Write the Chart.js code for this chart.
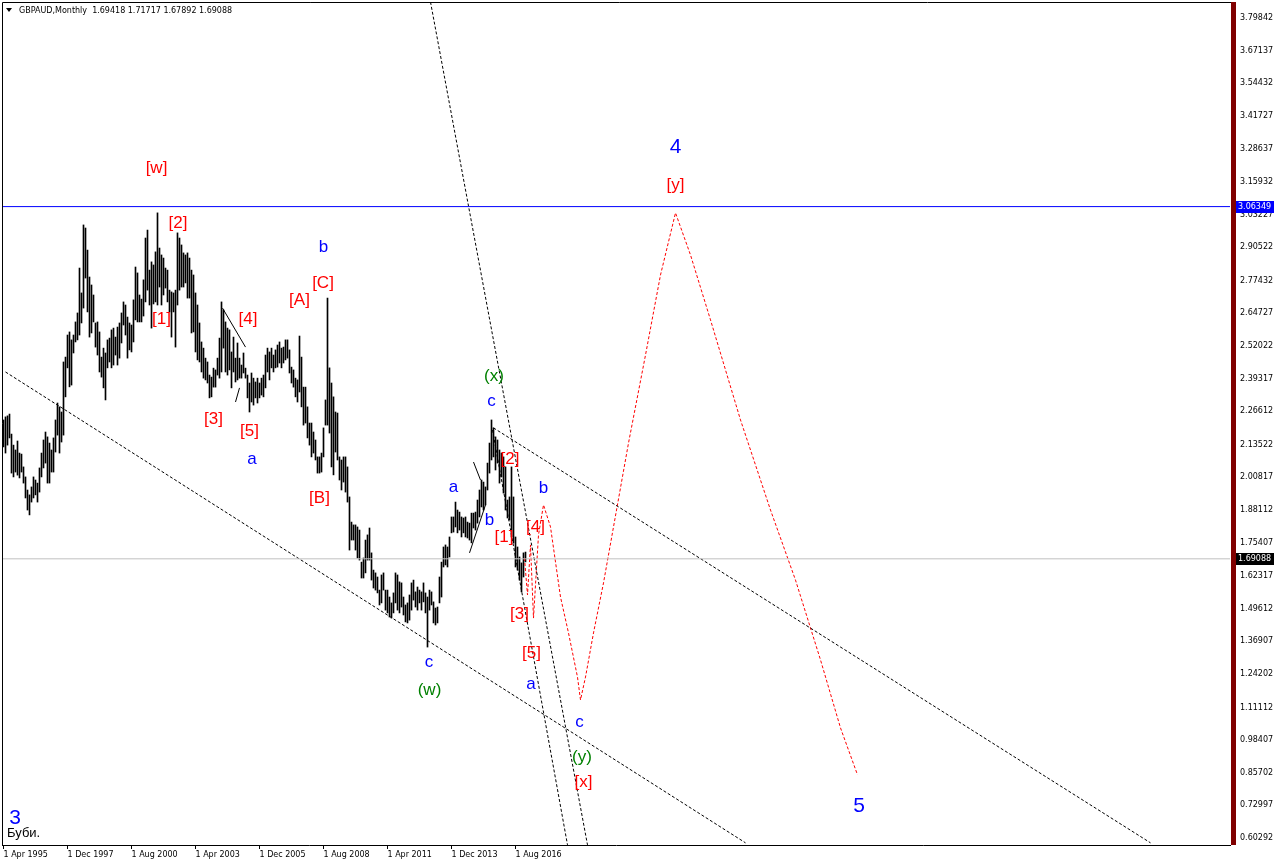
<!DOCTYPE html>
<html>
<head>
<meta charset="utf-8">
<script src="https://cdn.jsdelivr.net/npm/chart.js@4.4.1/dist/chart.umd.min.js"></script>
<style>
  body { margin: 0; background: #fff; }
  canvas { display: block; }
</style>
</head>
<body>
<canvas id="chart" width="1276" height="866"></canvas>
<script>
// monthly bars, index 0 = Apr 1995
const barHigh = [
  2.232, 2.244, 2.248, 2.255, 2.177, 2.134, 2.115, 2.150, 2.103, 2.099,
  2.049, 2.010, 1.959, 1.940, 1.971, 2.010, 1.998, 1.986, 2.045, 2.103,
  2.154, 2.185, 2.166, 2.142, 2.115, 2.162, 2.232, 2.298, 2.283, 2.263,
  2.458, 2.477, 2.563, 2.575, 2.544, 2.563, 2.614, 2.649, 2.824, 2.727,
  2.992, 2.980, 2.894, 2.789, 2.758, 2.719, 2.610, 2.614, 2.575, 2.477,
  2.512, 2.493, 2.544, 2.551, 2.583, 2.590, 2.555, 2.594, 2.610, 2.649,
  2.692, 2.680, 2.633, 2.610, 2.602, 2.700, 2.828, 2.805, 2.719, 2.703,
  2.778, 2.941, 2.972, 2.816, 2.848, 2.836, 2.887, 3.039, 2.902, 2.875,
  2.863, 2.824, 2.816, 2.738, 2.731, 2.727, 2.738, 2.961, 2.941, 2.914,
  2.883, 2.875, 2.883, 2.863, 2.816, 2.797, 2.727, 2.680, 2.610, 2.536,
  2.512, 2.473, 2.458, 2.407, 2.399, 2.434, 2.427, 2.473, 2.551, 2.692,
  2.661, 2.614, 2.590, 2.583, 2.497, 2.555, 2.473, 2.532, 2.473, 2.446,
  2.493, 2.434, 2.407, 2.376, 2.415, 2.395, 2.380, 2.395, 2.376, 2.395,
  2.407, 2.485, 2.512, 2.497, 2.512, 2.485, 2.505, 2.524, 2.536, 2.512,
  2.516, 2.544, 2.544, 2.505, 2.438, 2.427, 2.395, 2.388, 2.559, 2.477,
  2.360, 2.360, 2.283, 2.220, 2.220, 2.185, 2.154, 2.088, 2.088, 2.103,
  2.201, 2.310, 2.707, 2.435, 2.376, 2.322, 2.263, 2.259, 2.088, 2.076,
  2.088, 2.088, 2.049, 1.932, 1.834, 1.823, 1.823, 1.815, 1.803, 1.678,
  1.694, 1.764, 1.784, 1.811, 1.714, 1.647, 1.636, 1.620, 1.569, 1.628,
  1.636, 1.569, 1.569, 1.542, 1.519, 1.558, 1.636, 1.628, 1.601, 1.597,
  1.542, 1.511, 1.519, 1.550, 1.597, 1.608, 1.562, 1.581, 1.569, 1.562,
  1.597, 1.558, 1.542, 1.569, 1.562, 1.523, 1.499, 1.503, 1.620, 1.678,
  1.737, 1.745, 1.737, 1.776, 1.854, 1.854, 1.912, 1.881, 1.873, 1.854,
  1.850, 1.854, 1.834, 1.830, 1.869, 1.869, 1.873, 1.920, 1.959, 1.998,
  1.990, 1.971, 2.064, 2.142, 2.232, 2.201, 2.166, 2.154, 2.115, 2.103,
  2.088, 2.049, 1.920, 1.932, 2.049, 1.932, 1.776, 1.737, 1.698, 1.675,
  1.714, 1.71717
]
const barLow = [
  2.127, 2.103, 2.134, 2.162, 2.025, 2.010, 2.029, 2.017, 2.006, 2.029,
  1.986, 1.928, 1.881, 1.862, 1.912, 1.928, 1.940, 1.912, 1.951, 2.010,
  2.045, 2.064, 1.986, 1.986, 2.029, 2.029, 2.107, 2.173, 2.103, 2.146,
  2.173, 2.322, 2.435, 2.361, 2.368, 2.493, 2.536, 2.544, 2.563, 2.610,
  2.668, 2.785, 2.653, 2.555, 2.571, 2.614, 2.516, 2.485, 2.419, 2.399,
  2.357, 2.310, 2.435, 2.458, 2.435, 2.446, 2.485, 2.446, 2.473, 2.532,
  2.602, 2.563, 2.473, 2.505, 2.497, 2.536, 2.622, 2.614, 2.614, 2.614,
  2.637, 2.692, 2.738, 2.680, 2.590, 2.684, 2.692, 2.680, 2.750, 2.680,
  2.719, 2.746, 2.692, 2.653, 2.555, 2.653, 2.516, 2.680, 2.738, 2.750,
  2.750, 2.766, 2.707, 2.707, 2.571, 2.575, 2.497, 2.466, 2.458, 2.419,
  2.395, 2.388, 2.376, 2.318, 2.322, 2.360, 2.360, 2.407, 2.395, 2.419,
  2.512, 2.419, 2.407, 2.427, 2.357, 2.419, 2.380, 2.388, 2.395, 2.395,
  2.415, 2.395, 2.318, 2.263, 2.302, 2.290, 2.318, 2.298, 2.318, 2.329,
  2.322, 2.357, 2.419, 2.388, 2.435, 2.419, 2.435, 2.438, 2.454, 2.435,
  2.454, 2.466, 2.473, 2.415, 2.376, 2.360, 2.322, 2.302, 2.341, 2.283,
  2.212, 2.220, 2.162, 2.134, 2.088, 2.103, 2.076, 2.025, 2.025, 2.029,
  2.088, 2.212, 2.212, 2.181, 2.049, 2.018, 2.107, 2.076, 1.998, 1.959,
  1.990, 1.951, 1.912, 1.725, 1.764, 1.764, 1.725, 1.694, 1.686, 1.616,
  1.616, 1.636, 1.686, 1.686, 1.608, 1.577, 1.569, 1.558, 1.511, 1.519,
  1.569, 1.491, 1.480, 1.464, 1.460, 1.480, 1.519, 1.491, 1.480, 1.503,
  1.472, 1.445, 1.441, 1.452, 1.491, 1.530, 1.503, 1.491, 1.519, 1.491,
  1.523, 1.480, 1.347, 1.491, 1.511, 1.441, 1.433, 1.441, 1.519, 1.542,
  1.659, 1.667, 1.659, 1.698, 1.792, 1.795, 1.815, 1.792, 1.803, 1.776,
  1.792, 1.776, 1.772, 1.764, 1.753, 1.811, 1.803, 1.830, 1.854, 1.893,
  1.881, 1.901, 1.959, 2.025, 2.076, 2.088, 2.037, 2.064, 1.986, 2.010,
  1.947, 1.881, 1.850, 1.842, 1.776, 1.753, 1.659, 1.647, 1.608, 1.562,
  1.620, 1.67892
]
const lastBar = [1.69418, 1.71717, 1.67892, 1.69088]

const dateTicks = [0, 32, 64, 96, 128, 160, 192, 224, 256]
const dateLabels = ['1 Apr 1995', '1 Dec 1997', '1 Aug 2000', '1 Apr 2003', '1 Dec 2005',
  '1 Aug 2008', '1 Apr 2011', '1 Dec 2013', '1 Aug 2016']
const priceTicks = [3.79842, 3.67137, 3.54432, 3.41727, 3.28637, 3.15932, 3.03227, 2.90522,
  2.77432, 2.64727, 2.52022, 2.39317, 2.26612, 2.13522, 2.00817, 1.88112, 1.75407, 1.62317,
  1.49612, 1.36907, 1.24202, 1.11112, 0.98407, 0.85702, 0.72997, 0.60292]
const priceMin = 0.5756
const priceMax = 3.8608
const levelLine = 3.06349

// red projected path
const projIdx = [260.5, 262, 263.5, 265, 267.5, 270, 273.5, 278.5, 282.5, 287, 288.5, 291, 295,
  300, 305, 312.5, 321, 328.5, 336, 343.5, 353.5, 368.5, 383.5, 396, 408.5, 418.5, 427]
const projPrice = [1.694, 1.550, 1.745, 1.460, 1.784, 1.901, 1.815, 1.542, 1.402, 1.230, 1.141,
  1.230, 1.402, 1.597, 1.815, 2.142, 2.485, 2.797, 3.039, 2.875, 2.622, 2.232, 1.881, 1.608,
  1.297, 1.032, 0.849]

// dashed channel lines [idx, price]
const channelA = [[1, 2.419], [371, 0.584]]
const channelB = [[245, 2.201], [573.5, 0.584]]
const steepA = [[213.5, 3.861], [292, 0.576]]
const steepB = [[244.5, 2.193], [282, 0.576]]
// short solid trend lines
const trendLines = [
  [[109.5, 2.668], [121, 2.516]],
  [[116, 2.302], [118, 2.357]],
  [[235, 2.068], [238.5, 1.998]],
  [[233, 1.714], [241, 1.901]],
]

// wave marks: text, idx, price, colour key, big
const waveLabels = [
  ['[w]', 76.5, 3.212, 'r'], ['[2]', 87.25, 2.998, 'r'], ['[1]', 79, 2.624, 'r'],
  ['[4]', 122.25, 2.624, 'r'], ['[3]', 105, 2.234, 'r'], ['[5]', 123, 2.187, 'r'],
  ['a', 124.25, 2.080, 'b'], ['[A]', 148, 2.697, 'r'], ['[C]', 159.75, 2.764, 'r'],
  ['b', 160, 2.904, 'b'], ['[B]', 158, 1.926, 'r'], ['(x)', 245.25, 2.403, 'g'],
  ['c', 244, 2.306, 'b'], ['[2]', 253.25, 2.078, 'r'], ['a', 225, 1.971, 'b'],
  ['b', 243, 1.840, 'b'], ['[1]', 250.25, 1.774, 'r'], ['b', 270, 1.967, 'b'],
  ['[4]', 266, 1.813, 'r'], ['[3]', 258, 1.474, 'r'], ['[5]', 264, 1.322, 'r'],
  ['a', 263.75, 1.203, 'b'], ['c', 288, 1.053, 'b'], ['(y)', 289.25, 0.918, 'g'],
  ['[x]', 290, 0.821, 'r'], ['c', 212.75, 1.287, 'b'], ['(w)', 213, 1.180, 'g'],
  ['4', 336, 3.296, 'b', true], ['[y]', 336, 3.148, 'r'], ['5', 427.75, 0.728, 'b', true],
  ['3', 5.75, 0.681, 'b', true],
]
const labelColors = { r: '#ff0000', b: '#0000ff', g: '#008000' }

const toPts = arr => arr.map(p => ({ x: p[0], y: p[1] }))

const lineSet = (pts, color, dash) => ({
  type: 'line',
  data: pts,
  borderColor: color,
  borderWidth: 1,
  borderDash: dash,
  pointRadius: 0,
  tension: 0,
  fill: false,
  order: 0,
})

const priceBox = (ctx, yPx, text, bg) => {
  ctx.fillStyle = bg
  ctx.fillRect(1236, Math.round(yPx) - 6, 38, 12)
  ctx.fillStyle = '#fff'
  ctx.textAlign = 'left'
  ctx.textBaseline = 'middle'
  ctx.fillText(text, 1238, Math.round(yPx))
}

const decor = {
  id: 'decor',
  beforeDraw(chart) {
    const ctx = chart.ctx
    ctx.save()
    ctx.fillStyle = '#fff'
    ctx.fillRect(0, 0, chart.width, chart.height)
    ctx.restore()
  },
  afterDatasetsDraw(chart) {
    const { ctx, scales: { x, y } } = chart
    ctx.save()
    ctx.textAlign = 'center'
    ctx.textBaseline = 'middle'
    for (const [txt, i, p, c, big] of waveLabels) {
      ctx.font = (big ? '21px' : '17px') + ' "Liberation Sans", Arial, sans-serif'
      ctx.fillStyle = labelColors[c]
      ctx.fillText(txt, x.getPixelForValue(i), y.getPixelForValue(p))
    }
    ctx.font = '13px "Liberation Sans", Arial, sans-serif'
    ctx.fillStyle = '#000'
    ctx.textAlign = 'left'
    ctx.fillText('Буби.', 7, 833)
    ctx.restore()
  },
  afterDraw(chart) {
    const { ctx, chartArea: a, scales: { y } } = chart
    ctx.save()
    ctx.strokeStyle = '#000'
    ctx.lineWidth = 1
    ctx.beginPath()
    ctx.moveTo(a.left + 0.5, a.bottom)
    ctx.lineTo(a.left + 0.5, a.top + 0.5)
    ctx.lineTo(1236, a.top + 0.5)
    ctx.stroke()
    ctx.fillStyle = '#800000'
    ctx.fillRect(1231, a.top, 5, a.bottom - a.top)

    ctx.font = '8px "DejaVu Sans", sans-serif'
    priceBox(ctx, y.getPixelForValue(levelLine), levelLine.toFixed(5), '#0000ff')
    priceBox(ctx, y.getPixelForValue(lastBar[3]), lastBar[3].toFixed(5), '#000')

    // header
    ctx.fillStyle = '#000'
    ctx.beginPath()
    ctx.moveTo(6, 8)
    ctx.lineTo(12, 8)
    ctx.lineTo(9, 12)
    ctx.closePath()
    ctx.fill()
    ctx.font = '8px "DejaVu Sans", sans-serif'
    ctx.textAlign = 'left'
    ctx.textBaseline = 'middle'
    ctx.fillText('GBPAUD,Monthly  ' + lastBar.map(v => v.toFixed(5)).join(' '), 19, 11)
    ctx.restore()
  },
}

const tickFont = { family: 'DejaVu Sans', size: 8 }

new Chart(document.getElementById('chart'), {
  type: 'bar',
  data: {
    datasets: [
      lineSet(toPts([[-0.75, levelLine], [613.25, levelLine]]), '#0000ff', []),
      lineSet(toPts([[-0.75, lastBar[3]], [613.25, lastBar[3]]]), '#c0c0c0', []),
      lineSet(toPts(channelA), '#000', [3, 2]),
      lineSet(toPts(channelB), '#000', [3, 2]),
      lineSet(toPts(steepA), '#000', [3, 2]),
      lineSet(toPts(steepB), '#000', [3, 2]),
      ...trendLines.map(t => lineSet(toPts(t), '#000', [])),
      lineSet(projIdx.map((v, i) => ({ x: v, y: projPrice[i] })), '#ff0000', [3, 2]),
      {
        type: 'bar',
        data: barHigh.map((h, i) => ({ x: i, y: [barLow[i], h] })),
        backgroundColor: '#000',
        borderWidth: 0,
        barThickness: 1,
        order: 1,
      },
    ],
  },
  options: {
    responsive: false,
    animation: false,
    devicePixelRatio: 1,
    layout: { padding: { left: 2, top: 2, right: 0, bottom: 0 }, autoPadding: false },
    plugins: { legend: { display: false }, title: { display: false }, tooltip: { enabled: false } },
    scales: {
      x: {
        type: 'linear',
        min: -0.75,
        max: 613.25,
        offset: false,
        grid: { display: true, offset: false, drawOnChartArea: false, drawTicks: true, tickLength: 4, color: '#000' },
        border: { display: true, color: '#000' },
        ticks: {
          autoSkip: false,
          maxRotation: 0,
          align: 'start',
          padding: 1,
          color: '#000',
          font: tickFont,
          callback: (v, i) => dateLabels[i],
        },
        afterBuildTicks: s => { s.ticks = dateTicks.map(v => ({ value: v })) },
        afterFit: s => { s.height = 21; s.paddingLeft = 0; s.paddingRight = 0 },
      },
      y: {
        position: 'right',
        min: priceMin,
        max: priceMax,
        grid: { display: false, drawTicks: false },
        border: { display: false },
        ticks: {
          padding: 10,
          color: '#000',
          font: tickFont,
          callback: v => v.toFixed(5),
        },
        afterBuildTicks: s => { s.ticks = priceTicks.map(v => ({ value: v })) },
        afterFit: s => { s.width = 46; s.paddingTop = 0; s.paddingBottom = 0 },
      },
    },
  },
  plugins: [decor],
})
</script>
</body>
</html>
